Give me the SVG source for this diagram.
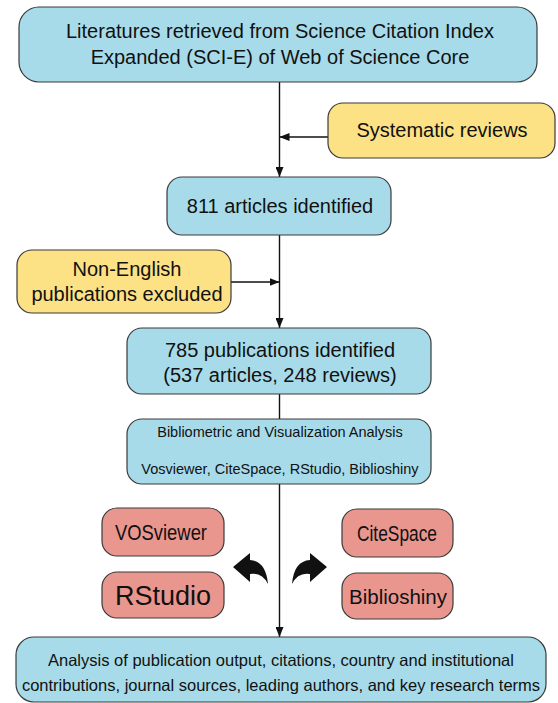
<svg xmlns="http://www.w3.org/2000/svg" width="558" height="703" viewBox="0 0 558 703">
<style>
  .blue{fill:#a8dbe9;stroke:#3a3a3a;stroke-width:1.2}
  .yellow{fill:#fce185;stroke:#3a3a3a;stroke-width:1.2}
  .red{fill:#e9968f;stroke:#3a3a3a;stroke-width:1.2}
  text{font-family:"Liberation Sans",Arial,sans-serif;fill:#111;text-anchor:middle}
  .t20{font-size:20px}
  .t14{font-size:14.5px}
  .t16{font-size:16.5px}
  .conn{stroke:#111;stroke-width:1.4;fill:none}
</style>
<defs>
  <marker id="ah" markerWidth="10" markerHeight="8" refX="10" refY="4" orient="auto" markerUnits="userSpaceOnUse">
    <path d="M0,0 L10,4 L0,8 Z" fill="#111"/>
  </marker>
</defs>
<rect width="558" height="703" fill="#fff"/>
<g id="connectors">
  <line class="conn" x1="279.5" y1="82" x2="279.5" y2="177" marker-end="url(#ah)"/>
  <line class="conn" x1="328" y1="137" x2="279.5" y2="137" marker-end="url(#ah)"/>
  <line class="conn" x1="279.5" y1="235" x2="279.5" y2="328" marker-end="url(#ah)"/>
  <line class="conn" x1="231" y1="282" x2="279.5" y2="282" marker-end="url(#ah)"/>
  <line class="conn" x1="279.5" y1="394" x2="279.5" y2="419"/>
  <line class="conn" x1="279.5" y1="484" x2="279.5" y2="637" marker-end="url(#ah)"/>
  <path id="arrow-left" d="M233,567 L250,553 L250,560 Q266,561 268,584 Q262,572 250,574 L250,582 Z" fill="#111"/>
  <path id="arrow-right" d="M233,567 L250,553 L250,560 Q266,561 268,584 Q262,572 250,574 L250,582 Z" fill="#111" transform="translate(560,0) scale(-1,1)"/>
</g>
<g id="n-source">
  <rect class="blue" x="19" y="7" width="518" height="75" rx="20"/>
  <text class="t20" x="280" y="38">Literatures retrieved from Science Citation Index</text>
  <text class="t20" x="280" y="64">Expanded (SCI-E) of Web of Science Core</text>
</g>
<g id="n-systematic">
  <rect class="yellow" x="328" y="103" width="227" height="55" rx="15"/>
  <text class="t20" x="442" y="137">Systematic reviews</text>
</g>
<g id="n-811">
  <rect class="blue" x="167" y="177" width="224" height="58" rx="15"/>
  <text class="t20" x="280" y="213">811 articles identified</text>
</g>
<g id="n-nonenglish">
  <rect class="yellow" x="17" y="250" width="214" height="63" rx="15"/>
  <text class="t20" x="127" y="276">Non-English</text>
  <text class="t20" x="127" y="301">publications excluded</text>
</g>
<g id="n-785">
  <rect class="blue" x="127" y="328" width="304" height="66" rx="15"/>
  <text class="t20" x="280" y="357">785 publications identified</text>
  <text class="t20" x="280" y="382">(537 articles, 248 reviews)</text>
</g>
<g id="n-biblio">
  <rect class="blue" x="127" y="419" width="304" height="65" rx="15"/>
  <text class="t14" x="280" y="437">Bibliometric and Visualization Analysis</text>
  <text class="t14" x="280" y="474">Vosviewer, CiteSpace, RStudio, Biblioshiny</text>
</g>
<g id="n-vosviewer">
  <rect class="red" x="102" y="508" width="122" height="48" rx="15"/>
  <text x="161" y="540" font-size="22" textLength="92" lengthAdjust="spacingAndGlyphs">VOSviewer</text>
</g>
<g id="n-rstudio">
  <rect class="red" x="102" y="572" width="122" height="46" rx="15"/>
  <text x="163" y="605" font-size="27">RStudio</text>
</g>
<g id="n-citespace">
  <rect class="red" x="342" y="509" width="111" height="48" rx="15"/>
  <text x="397" y="541" font-size="22" textLength="80" lengthAdjust="spacingAndGlyphs">CiteSpace</text>
</g>
<g id="n-biblioshiny">
  <rect class="red" x="342" y="573" width="111" height="46" rx="15"/>
  <text x="398" y="604" font-size="20.5">Biblioshiny</text>
</g>
<g id="n-analysis">
  <rect class="blue" x="16" y="637" width="530" height="65" rx="18"/>
  <text class="t16" x="281" y="666">Analysis of publication output, citations, country and institutional</text>
  <text class="t16" x="281" y="691">contributions, journal sources, leading authors, and key research terms</text>
</g>
</svg>
